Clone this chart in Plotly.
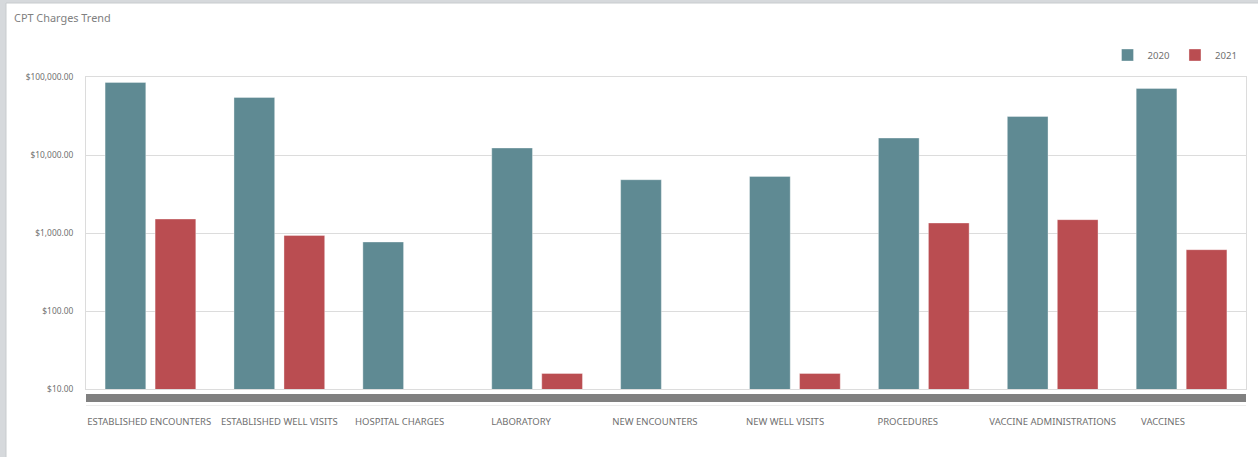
import plotly.graph_objects as go

categories = ["ESTABLISHED ENCOUNTERS", "ESTABLISHED WELL VISITS", "HOSPITAL CHARGES",
              "LABORATORY", "NEW ENCOUNTERS", "NEW WELL VISITS", "PROCEDURES",
              "VACCINE ADMINISTRATIONS", "VACCINES"]
values_2020 = [85300, 54700, 767, 12300, 4820, 5320, 16500, 31200, 71400]
values_2021 = [1511, 931, None, 15.8, None, 15.8, 1343, 1482, 611]
series_names = ["2020", "2021"]
y_tick_vals = [10, 100, 1000, 10000, 100000]
y_tick_text = ["$10.00", "$100.00", "$1,000.00", "$10,000.00", "$100,000.00"]

# labels in the source are padded with trailing spaces to a common length
pad_len = max(len(c) for c in categories)
tick_text = [c + "\u00a0" * (pad_len - len(c)) for c in categories]

FONT = "Noto Sans"
TEAL = "#5f8a93"
RED = "#ba4d51"

fig = go.Figure()
fig.add_trace(go.Bar(x=categories, y=values_2020, name=series_names[0],
                     marker=dict(color=TEAL, line=dict(color="rgba(255,255,255,0.35)", width=1))))
fig.add_trace(go.Bar(x=categories, y=values_2021, name=series_names[1],
                     marker=dict(color=RED, line=dict(color="rgba(255,255,255,0.35)", width=1))))

W, H = 1258, 457
L, R, T, B = 86, 12, 77, 68
pw, ph = W - L - R, H - T - B

def px_x(p):
    return (p - L) / pw

def px_y(p):
    return (H - B - p) / ph

shapes = [
    # white panel over grey page background
    dict(type="rect", xref="paper", yref="paper", layer="below",
         x0=px_x(6), x1=px_x(W + 5), y0=px_y(H + 5), y1=px_y(3),
         fillcolor="white", line=dict(color="#c8cbce", width=1)),
    # scrollbar-like grey strip under the plot
    dict(type="rect", xref="paper", yref="paper",
         x0=0, x1=1, y0=px_y(402), y1=px_y(394),
         fillcolor="#808080", line=dict(width=0)),
    dict(type="line", xref="paper", yref="paper",
         x0=0, x1=1, y0=px_y(405.5), y1=px_y(405.5),
         line=dict(color="#ececec", width=1)),
]

fig.update_layout(
    width=W, height=H,
    margin=dict(l=L, r=R, t=T, b=B),
    paper_bgcolor="#d6d9dc",
    plot_bgcolor="white",
    font=dict(family=FONT, size=10, color="#707070"),
    barmode="group", bargap=0.224, bargroupgap=0.186,
    showlegend=True,
    legend=dict(orientation="h", x=0.997, xanchor="right", y=px_y(55), yanchor="middle",
                font=dict(family=FONT, size=9.6, color="#707070"),
                bgcolor="rgba(0,0,0,0)", itemwidth=30, traceorder="normal"),
    shapes=shapes,
    annotations=[dict(text="CPT Charges Trend", xref="paper", yref="paper",
                      x=px_x(12), y=px_y(17), xanchor="left", yanchor="middle",
                      showarrow=False, font=dict(family=FONT, size=10.9, color="#808080"))],
)

fig.update_xaxes(
    tickmode="array", tickvals=categories, ticktext=tick_text,
    ticks="outside", ticklen=24, tickcolor="rgba(0,0,0,0)",
    tickfont=dict(family=FONT, size=9.5, color="#707070"),
    showline=True, linecolor="#dcdcdc", linewidth=1, mirror=True,
    showgrid=False, tickangle=0,
)
fig.update_yaxes(
    type="log", range=[1, 5],
    tickmode="array", tickvals=y_tick_vals, ticktext=y_tick_text,
    ticks="outside", ticklen=10, tickcolor="rgba(0,0,0,0)",
    tickfont=dict(family=FONT, size=8.4, color="#707070"),
    showgrid=True, gridcolor="#dcdcdc", gridwidth=1,
    showline=True, linecolor="#dcdcdc", linewidth=1, mirror=True,
    zeroline=False,
)

fig.write_html("out.html", config={"displayModeBar": False},
               post_script="document.body.style.margin='0px';")
